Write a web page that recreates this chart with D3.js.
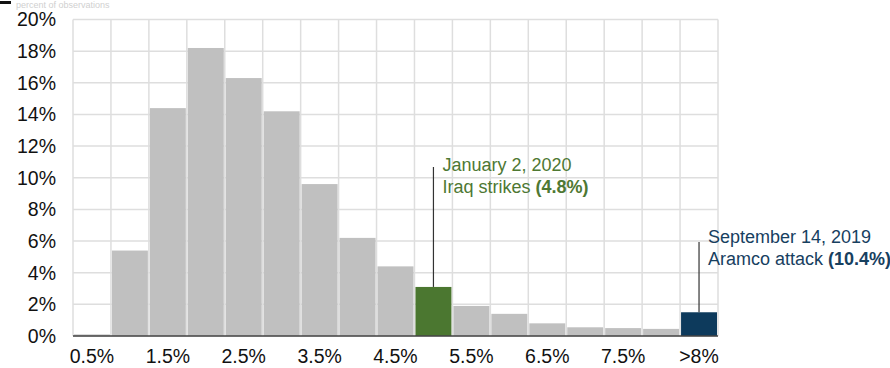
<!DOCTYPE html>
<html><head><meta charset="utf-8">
<script src="https://cdn.jsdelivr.net/npm/d3@7"></script>
<style>body{margin:0;background:#fff}svg{display:block;font-family:"Liberation Sans",Arial,sans-serif}</style>
</head><body><svg id="c" width="890" height="368"></svg>
<script>
const categories = ["0.5","1.0","1.5","2.0","2.5","3.0","3.5","4.0","4.5","5.0","5.5","6.0","6.5","7.0","7.5","8.0",">8"];
const values = [0.1,5.4,14.4,18.2,16.3,14.2,9.6,6.2,4.4,3.1,1.9,1.4,0.8,0.55,0.5,0.45,1.5];
const xTickLabels = {"0.5":"0.5%","1.5":"1.5%","2.5":"2.5%","3.5":"3.5%","4.5":"4.5%","5.5":"5.5%","6.5":"6.5%","7.5":"7.5%",">8":">8%"};
const yTicks = [0,2,4,6,8,10,12,14,16,18,20];
const highlight = {"5.0":"#4b7730",">8":"#0d3a5c"};
const annotations = [
  {cat:"5.0", lines:["January 2, 2020","Iraq strikes "], bold:"(4.8%)", color:"#4e7833", textY:165, lineTop:167},
  {cat:">8", lines:["September 14, 2019","Aramco attack "], bold:"(10.4%)", color:"#17405f", textY:237, lineTop:242}
];

const svg = d3.select("#c");
const m = {l:73, r:172, t:19.5, b:32};
const W = 890, H = 368;
const x = d3.scaleBand().domain(categories).range([m.l, W - m.r]).padding(0);
const y = d3.scaleLinear().domain([0,20]).range([H - m.b, m.t]);

// grid
const g = svg.append("g");
g.selectAll("line.h").data(yTicks).join("line")
  .attr("x1", m.l).attr("x2", W - m.r).attr("y1", d=>y(d)).attr("y2", d=>y(d))
  .attr("stroke","#dedede").attr("stroke-width",1.5);
const vb = categories.map(c=>x(c)).concat([W - m.r]);
g.selectAll("line.v").data(vb).join("line")
  .attr("x1", d=>d).attr("x2", d=>d).attr("y1", y(20)).attr("y2", y(0))
  .attr("stroke","#dedede").attr("stroke-width",1.5);

// bars
svg.append("g").selectAll("rect").data(categories).join("rect")
  .attr("x", d=>x(d)+1).attr("width", x.bandwidth()-2)
  .attr("y", (d,i)=>y(values[i])).attr("height", (d,i)=>y(0)-y(values[i]))
  .attr("fill", d=>highlight[d] || "#c0c0c0");

// baseline
svg.append("line").attr("x1", m.l).attr("x2", W - m.r).attr("y1", y(0)).attr("y2", y(0))
  .attr("stroke","#444").attr("stroke-width",1.5);

// y axis labels
svg.append("g").selectAll("text").data(yTicks).join("text")
  .attr("x", 56).attr("y", d=>y(d)).attr("dy","0.35em").attr("text-anchor","end")
  .attr("font-size",19.5).attr("fill","#111").text(d=>d+"%");

// x axis labels
svg.append("g").selectAll("text").data(categories.filter(c=>xTickLabels[c])).join("text")
  .attr("x", d=>x(d)+x.bandwidth()/2).attr("y", 356).attr("dy","0.35em").attr("text-anchor","middle")
  .attr("font-size",19.5).attr("fill","#111").text(d=>xTickLabels[d]);

// annotations
annotations.forEach(a=>{
  const cx = x(a.cat) + x.bandwidth()/2;
  const idx = categories.indexOf(a.cat);
  svg.append("line").attr("x1",cx).attr("x2",cx).attr("y1",a.lineTop).attr("y2",y(values[idx]))
    .attr("stroke","#333").attr("stroke-width",1.2);
  const t = svg.append("text").attr("x", cx+9).attr("y", a.textY).attr("fill", a.color).attr("font-size",18);
  t.append("tspan").attr("x", cx+9).attr("dy","0.35em").text(a.lines[0]);
  t.append("tspan").attr("x", cx+9).attr("dy","1.2em").text(a.lines[1]);
  t.append("tspan").attr("font-weight","bold").text(a.bold);
});

// cut-off header remnants
svg.append("rect").attr("x",0).attr("y",1).attr("width",11).attr("height",3).attr("fill","#111");
svg.append("text").attr("x",16).attr("y",8).attr("font-size",9).attr("fill","#d0d0d0").text("percent of observations");
</script></body></html>
